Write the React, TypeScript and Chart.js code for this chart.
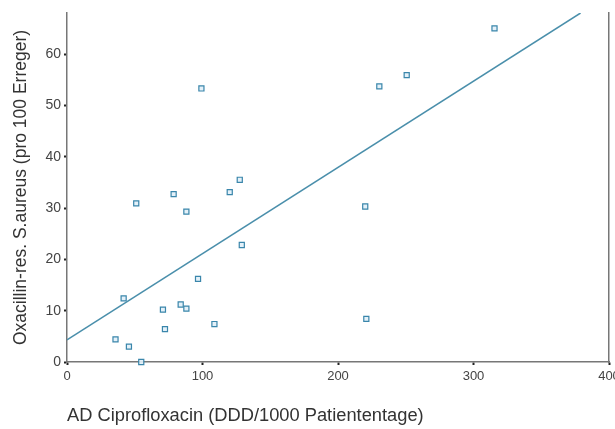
import React, { useEffect, useRef } from "react";
import { Chart, registerables } from "chart.js";

Chart.register(...registerables);

// Scatter data: AD Ciprofloxacin (x) vs Oxacillin-res. S.aureus (y)
const pointsX = [99.2, 51.1, 78.7, 88.1, 120.1, 127.5, 315.5, 250.7, 230.5, 220.1, 129.0, 96.7, 41.8, 70.8, 83.9, 88.1, 72.3, 108.8, 35.8, 45.7, 54.8, 220.9];
const pointsY = [53.3, 30.9, 32.7, 29.3, 33.1, 35.5, 65.0, 55.9, 53.7, 30.3, 22.8, 16.2, 12.4, 10.2, 11.2, 10.4, 6.4, 7.4, 4.4, 3.0, 0.0, 8.4];

// Regression line endpoints
const regX = [0, 379];
const regY = [4.3, 68];

const xTicks = [0, 100, 200, 300, 400];
const yTicks = [0, 10, 20, 30, 40, 50, 60];

const xTitle = "AD Ciprofloxacin (DDD/1000 Patiententage)";
const yTitle = "Oxacillin-res. S.aureus (pro 100 Erreger)";

const FONT = "'Liberation Sans', Arial, Helvetica, sans-serif";

export default function App() {
  const ref = useRef<HTMLCanvasElement | null>(null);

  useEffect(() => {
    if (!ref.current) return;
    const chart = new Chart(ref.current, {
      type: "scatter",
      data: {
        datasets: [
          {
            type: "line",
            label: "Regression",
            data: regX.map((x, i) => ({ x, y: regY[i] })),
            borderColor: "#4a8fab",
            borderWidth: 1.5,
            pointRadius: 0,
            fill: false,
            showLine: true,
          } as any,
          {
            label: "Kliniken",
            data: pointsX.map((x, i) => ({ x, y: pointsY[i] })),
            pointStyle: "rect",
            pointRadius: 3.6,
            borderColor: "#3a86ab",
            backgroundColor: "rgba(225,240,248,0.9)",
            borderWidth: 1.2,
            clip: false,
          } as any,
        ],
      },
      options: {
        responsive: false,
        animation: false,
        devicePixelRatio: 1,
        layout: { padding: { top: 13, right: 6, left: 0, bottom: 0 } },
        plugins: {
          legend: { display: false },
          tooltip: { enabled: false },
        },
        scales: {
          x: {
            type: "linear",
            min: 0,
            max: 400,
            afterBuildTicks: (s: any) => {
              s.ticks = xTicks.map((v) => ({ value: v }));
            },
            afterFit: (s: any) => {
              s.height = 67;
              s.paddingRight = 0;
              s.paddingLeft = 0;
            },
            ticks: {
              font: { family: FONT, size: 13 },
              color: "#444",
              padding: 4,
            },
            grid: {
              display: true,
              drawOnChartArea: false,
              tickLength: 3,
              tickColor: "#222",
              tickWidth: 2,
            },
            border: { display: true, color: "#777", width: 1.5 },
            title: {
              display: true,
              text: xTitle,
              align: "start",
              font: { family: FONT, size: 18.3 },
              color: "#333",
              padding: { top: 0, bottom: 2.5 },
            },
          },
          y: {
            type: "linear",
            min: 0,
            max: 68,
            afterBuildTicks: (s: any) => {
              s.ticks = yTicks.map((v) => ({ value: v }));
            },
            afterFit: (s: any) => {
              s.width = 67;
            },
            ticks: {
              font: { family: FONT, size: 14 },
              color: "#444",
              padding: 3,
            },
            grid: {
              display: true,
              drawOnChartArea: false,
              tickLength: 3,
              tickColor: "#222",
              tickWidth: 2,
            },
            border: { display: true, color: "#777", width: 1.5 },
            title: {
              display: true,
              text: yTitle,
              font: { family: FONT, size: 17.5 },
              color: "#333",
              padding: { top: 11, bottom: 0 },
            },
          },
          yR: {
            type: "linear",
            position: "right",
            min: 0,
            max: 68,
            afterFit: (s: any) => {
              s.width = 0;
            },
            ticks: { display: false },
            grid: { display: true, drawOnChartArea: false, drawTicks: false },
            border: { display: true, color: "#777", width: 1.5 },
          },
        },
      } as any,
    });
    return () => chart.destroy();
  }, []);

  return (
    <div style={{ position: "fixed", left: 0, top: 0, width: 615, height: 429, background: "#fff" }}>
      <canvas ref={ref} width={615} height={429} style={{ display: "block" }} />
    </div>
  );
}
